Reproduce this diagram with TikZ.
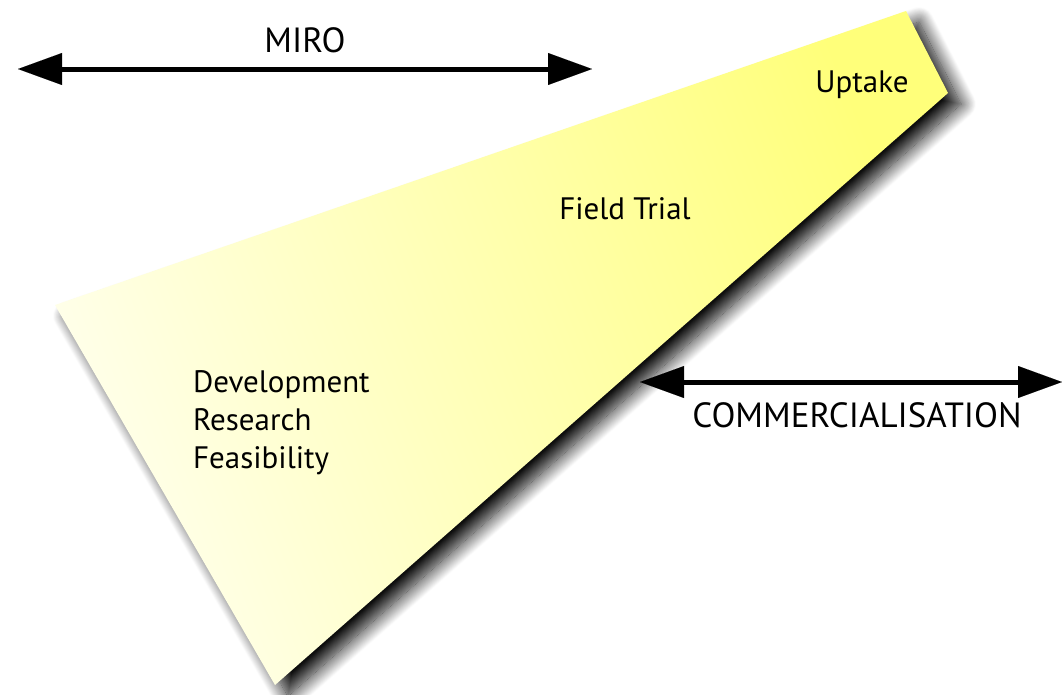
\documentclass[tikz,border=0pt]{standalone}
\usepackage{fontspec}
\setmainfont{PT Sans}
\usetikzlibrary{arrows.meta,shadows.blur}
\begin{document}
\begin{tikzpicture}[x=1pt,y=-1pt,
  label/.style={inner sep=0pt, font=\fontsize{31}{38}\selectfont, text=black},
  tip/.tip={Triangle[length=44pt,width=32pt,line width=0.1pt,fill=black]},
  span/.style={line width=5pt, draw=black, tip-tip},
  wedge/.style={blur shadow={shadow xshift=13pt, shadow yshift=-11pt, shadow blur radius=15pt, shadow blur steps=20, shadow opacity=95},
    left color=yellow!8!white, right color=yellow!52!white, shading angle=112}]
\useasboundingbox (0,0) rectangle (1062,694);

% stage wedge
\shade[wedge] (55,305) -- (906,11) -- (948,93) -- (275,685) -- cycle;

% stages
\node[label, anchor=base] (up) at (862,92) {Uptake};
\node[label, anchor=base] (ft) at (625,219) {Field Trial};
\node[label, anchor=base west] (dev) at (193,392) {Development};
\node[label, anchor=base west] (res) at (193,430) {Research};
\node[label, anchor=base west] (fea) at (193,468) {Feasibility};

% MIRO span
\coordinate (m1) at (18,69);
\coordinate (m2) at (592,69);
\draw[span] (m1) -- (m2);
\node[label, anchor=base, font=\fontsize{35}{40}\selectfont] (miro) at (305,52) {MIRO};

% commercialisation span
\coordinate (c1) at (640,382);
\coordinate (c2) at (1062,382);
\draw[span] (c1) -- (c2);
\node[label, anchor=base, font=\fontsize{35}{40}\selectfont] (com) at (857,427) {COMMERCIALISATION};
\end{tikzpicture}
\end{document}
